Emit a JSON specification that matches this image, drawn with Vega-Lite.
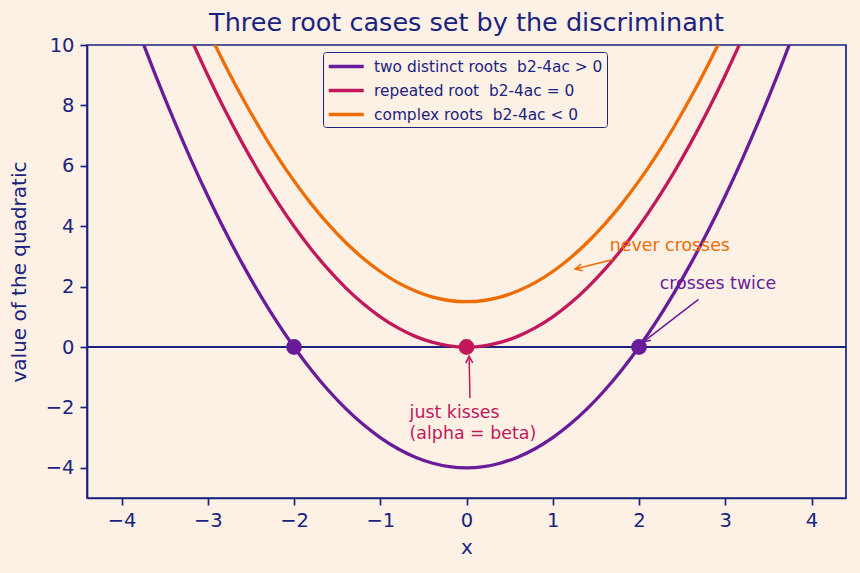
{
  "$schema": "https://vega.github.io/schema/vega-lite/v6.json",
  "width": 759,
  "height": 453,
  "autosize": {"type": "none"},
  "padding": {"left": 87, "top": 45, "right": 14, "bottom": 75},
  "background": "#fdf1e6",
  "config": {
    "font": "DejaVu Sans",
    "view": {"stroke": "#1a237e", "strokeWidth": 1.7, "fill": "#fdf1e6"},
    "axis": {
      "grid": false,
      "domainColor": "#1a237e",
      "domainWidth": 1.7,
      "tickColor": "#1a237e",
      "tickWidth": 1.7,
      "tickSize": 7,
      "labelColor": "#1a237e",
      "labelFontSize": 19.5,
      "labelPadding": 6,
      "titleColor": "#1a237e",
      "titleFontSize": 20,
      "titleFontWeight": "normal"
    }
  },
  "title": {
    "text": "Three root cases set by the discriminant",
    "fontSize": 25.5,
    "fontWeight": "normal",
    "color": "#1a237e",
    "anchor": "middle",
    "offset": -1
  },
  "datasets": {
    "curves": [
      {"x": -3.8, "y": 10.44, "case": "two distinct roots \u00a0b2-4ac > 0"},
      {"x": -3.6, "y": 8.96, "case": "two distinct roots \u00a0b2-4ac > 0"},
      {"x": -3.4, "y": 7.56, "case": "two distinct roots \u00a0b2-4ac > 0"},
      {"x": -3.2, "y": 6.24, "case": "two distinct roots \u00a0b2-4ac > 0"},
      {"x": -3.0, "y": 5.0, "case": "two distinct roots \u00a0b2-4ac > 0"},
      {"x": -2.8, "y": 3.84, "case": "two distinct roots \u00a0b2-4ac > 0"},
      {"x": -2.6, "y": 2.76, "case": "two distinct roots \u00a0b2-4ac > 0"},
      {"x": -2.4, "y": 1.76, "case": "two distinct roots \u00a0b2-4ac > 0"},
      {"x": -2.2, "y": 0.84, "case": "two distinct roots \u00a0b2-4ac > 0"},
      {"x": -2.0, "y": 0.0, "case": "two distinct roots \u00a0b2-4ac > 0"},
      {"x": -1.8, "y": -0.76, "case": "two distinct roots \u00a0b2-4ac > 0"},
      {"x": -1.6, "y": -1.44, "case": "two distinct roots \u00a0b2-4ac > 0"},
      {"x": -1.4, "y": -2.04, "case": "two distinct roots \u00a0b2-4ac > 0"},
      {"x": -1.2, "y": -2.56, "case": "two distinct roots \u00a0b2-4ac > 0"},
      {"x": -1.0, "y": -3.0, "case": "two distinct roots \u00a0b2-4ac > 0"},
      {"x": -0.8, "y": -3.36, "case": "two distinct roots \u00a0b2-4ac > 0"},
      {"x": -0.6, "y": -3.64, "case": "two distinct roots \u00a0b2-4ac > 0"},
      {"x": -0.4, "y": -3.84, "case": "two distinct roots \u00a0b2-4ac > 0"},
      {"x": -0.2, "y": -3.96, "case": "two distinct roots \u00a0b2-4ac > 0"},
      {"x": 0.0, "y": -4.0, "case": "two distinct roots \u00a0b2-4ac > 0"},
      {"x": 0.2, "y": -3.96, "case": "two distinct roots \u00a0b2-4ac > 0"},
      {"x": 0.4, "y": -3.84, "case": "two distinct roots \u00a0b2-4ac > 0"},
      {"x": 0.6, "y": -3.64, "case": "two distinct roots \u00a0b2-4ac > 0"},
      {"x": 0.8, "y": -3.36, "case": "two distinct roots \u00a0b2-4ac > 0"},
      {"x": 1.0, "y": -3.0, "case": "two distinct roots \u00a0b2-4ac > 0"},
      {"x": 1.2, "y": -2.56, "case": "two distinct roots \u00a0b2-4ac > 0"},
      {"x": 1.4, "y": -2.04, "case": "two distinct roots \u00a0b2-4ac > 0"},
      {"x": 1.6, "y": -1.44, "case": "two distinct roots \u00a0b2-4ac > 0"},
      {"x": 1.8, "y": -0.76, "case": "two distinct roots \u00a0b2-4ac > 0"},
      {"x": 2.0, "y": 0.0, "case": "two distinct roots \u00a0b2-4ac > 0"},
      {"x": 2.2, "y": 0.84, "case": "two distinct roots \u00a0b2-4ac > 0"},
      {"x": 2.4, "y": 1.76, "case": "two distinct roots \u00a0b2-4ac > 0"},
      {"x": 2.6, "y": 2.76, "case": "two distinct roots \u00a0b2-4ac > 0"},
      {"x": 2.8, "y": 3.84, "case": "two distinct roots \u00a0b2-4ac > 0"},
      {"x": 3.0, "y": 5.0, "case": "two distinct roots \u00a0b2-4ac > 0"},
      {"x": 3.2, "y": 6.24, "case": "two distinct roots \u00a0b2-4ac > 0"},
      {"x": 3.4, "y": 7.56, "case": "two distinct roots \u00a0b2-4ac > 0"},
      {"x": 3.6, "y": 8.96, "case": "two distinct roots \u00a0b2-4ac > 0"},
      {"x": 3.8, "y": 10.44, "case": "two distinct roots \u00a0b2-4ac > 0"},

      {"x": -3.2, "y": 10.24, "case": "repeated root \u00a0b2-4ac = 0"},
      {"x": -3.0, "y": 9.0, "case": "repeated root \u00a0b2-4ac = 0"},
      {"x": -2.8, "y": 7.84, "case": "repeated root \u00a0b2-4ac = 0"},
      {"x": -2.6, "y": 6.76, "case": "repeated root \u00a0b2-4ac = 0"},
      {"x": -2.4, "y": 5.76, "case": "repeated root \u00a0b2-4ac = 0"},
      {"x": -2.2, "y": 4.84, "case": "repeated root \u00a0b2-4ac = 0"},
      {"x": -2.0, "y": 4.0, "case": "repeated root \u00a0b2-4ac = 0"},
      {"x": -1.8, "y": 3.24, "case": "repeated root \u00a0b2-4ac = 0"},
      {"x": -1.6, "y": 2.56, "case": "repeated root \u00a0b2-4ac = 0"},
      {"x": -1.4, "y": 1.96, "case": "repeated root \u00a0b2-4ac = 0"},
      {"x": -1.2, "y": 1.44, "case": "repeated root \u00a0b2-4ac = 0"},
      {"x": -1.0, "y": 1.0, "case": "repeated root \u00a0b2-4ac = 0"},
      {"x": -0.8, "y": 0.64, "case": "repeated root \u00a0b2-4ac = 0"},
      {"x": -0.6, "y": 0.36, "case": "repeated root \u00a0b2-4ac = 0"},
      {"x": -0.4, "y": 0.16, "case": "repeated root \u00a0b2-4ac = 0"},
      {"x": -0.2, "y": 0.04, "case": "repeated root \u00a0b2-4ac = 0"},
      {"x": 0.0, "y": 0.0, "case": "repeated root \u00a0b2-4ac = 0"},
      {"x": 0.2, "y": 0.04, "case": "repeated root \u00a0b2-4ac = 0"},
      {"x": 0.4, "y": 0.16, "case": "repeated root \u00a0b2-4ac = 0"},
      {"x": 0.6, "y": 0.36, "case": "repeated root \u00a0b2-4ac = 0"},
      {"x": 0.8, "y": 0.64, "case": "repeated root \u00a0b2-4ac = 0"},
      {"x": 1.0, "y": 1.0, "case": "repeated root \u00a0b2-4ac = 0"},
      {"x": 1.2, "y": 1.44, "case": "repeated root \u00a0b2-4ac = 0"},
      {"x": 1.4, "y": 1.96, "case": "repeated root \u00a0b2-4ac = 0"},
      {"x": 1.6, "y": 2.56, "case": "repeated root \u00a0b2-4ac = 0"},
      {"x": 1.8, "y": 3.24, "case": "repeated root \u00a0b2-4ac = 0"},
      {"x": 2.0, "y": 4.0, "case": "repeated root \u00a0b2-4ac = 0"},
      {"x": 2.2, "y": 4.84, "case": "repeated root \u00a0b2-4ac = 0"},
      {"x": 2.4, "y": 5.76, "case": "repeated root \u00a0b2-4ac = 0"},
      {"x": 2.6, "y": 6.76, "case": "repeated root \u00a0b2-4ac = 0"},
      {"x": 2.8, "y": 7.84, "case": "repeated root \u00a0b2-4ac = 0"},
      {"x": 3.0, "y": 9.0, "case": "repeated root \u00a0b2-4ac = 0"},
      {"x": 3.2, "y": 10.24, "case": "repeated root \u00a0b2-4ac = 0"},

      {"x": -3.0, "y": 10.5, "case": "complex roots \u00a0b2-4ac < 0"},
      {"x": -2.8, "y": 9.34, "case": "complex roots \u00a0b2-4ac < 0"},
      {"x": -2.6, "y": 8.26, "case": "complex roots \u00a0b2-4ac < 0"},
      {"x": -2.4, "y": 7.26, "case": "complex roots \u00a0b2-4ac < 0"},
      {"x": -2.2, "y": 6.34, "case": "complex roots \u00a0b2-4ac < 0"},
      {"x": -2.0, "y": 5.5, "case": "complex roots \u00a0b2-4ac < 0"},
      {"x": -1.8, "y": 4.74, "case": "complex roots \u00a0b2-4ac < 0"},
      {"x": -1.6, "y": 4.06, "case": "complex roots \u00a0b2-4ac < 0"},
      {"x": -1.4, "y": 3.46, "case": "complex roots \u00a0b2-4ac < 0"},
      {"x": -1.2, "y": 2.94, "case": "complex roots \u00a0b2-4ac < 0"},
      {"x": -1.0, "y": 2.5, "case": "complex roots \u00a0b2-4ac < 0"},
      {"x": -0.8, "y": 2.14, "case": "complex roots \u00a0b2-4ac < 0"},
      {"x": -0.6, "y": 1.86, "case": "complex roots \u00a0b2-4ac < 0"},
      {"x": -0.4, "y": 1.66, "case": "complex roots \u00a0b2-4ac < 0"},
      {"x": -0.2, "y": 1.54, "case": "complex roots \u00a0b2-4ac < 0"},
      {"x": 0.0, "y": 1.5, "case": "complex roots \u00a0b2-4ac < 0"},
      {"x": 0.2, "y": 1.54, "case": "complex roots \u00a0b2-4ac < 0"},
      {"x": 0.4, "y": 1.66, "case": "complex roots \u00a0b2-4ac < 0"},
      {"x": 0.6, "y": 1.86, "case": "complex roots \u00a0b2-4ac < 0"},
      {"x": 0.8, "y": 2.14, "case": "complex roots \u00a0b2-4ac < 0"},
      {"x": 1.0, "y": 2.5, "case": "complex roots \u00a0b2-4ac < 0"},
      {"x": 1.2, "y": 2.94, "case": "complex roots \u00a0b2-4ac < 0"},
      {"x": 1.4, "y": 3.46, "case": "complex roots \u00a0b2-4ac < 0"},
      {"x": 1.6, "y": 4.06, "case": "complex roots \u00a0b2-4ac < 0"},
      {"x": 1.8, "y": 4.74, "case": "complex roots \u00a0b2-4ac < 0"},
      {"x": 2.0, "y": 5.5, "case": "complex roots \u00a0b2-4ac < 0"},
      {"x": 2.2, "y": 6.34, "case": "complex roots \u00a0b2-4ac < 0"},
      {"x": 2.4, "y": 7.26, "case": "complex roots \u00a0b2-4ac < 0"},
      {"x": 2.6, "y": 8.26, "case": "complex roots \u00a0b2-4ac < 0"},
      {"x": 2.8, "y": 9.34, "case": "complex roots \u00a0b2-4ac < 0"},
      {"x": 3.0, "y": 10.5, "case": "complex roots \u00a0b2-4ac < 0"}
    ],
    "roots": [
      {"x": -2, "y": 0, "case": "two distinct roots \u00a0b2-4ac > 0"},
      {"x": 0, "y": 0, "case": "repeated root \u00a0b2-4ac = 0"},
      {"x": 2, "y": 0, "case": "two distinct roots \u00a0b2-4ac > 0"}
    ]
  },
  "layer": [
    {
      "description": "y = 0 reference line",
      "data": {"values": [{"y": 0}]},
      "mark": {"type": "rule", "color": "#1a237e", "strokeWidth": 1.8},
      "encoding": {
        "y": {"field": "y", "type": "quantitative"}
      }
    },
    {
      "data": {"name": "curves"},
      "mark": {"type": "line", "strokeWidth": 3.3, "clip": true, "interpolate": "monotone"},
      "encoding": {
        "x": {
          "field": "x", "type": "quantitative",
          "scale": {"domain": [-4.4, 4.4], "nice": false, "zero": false},
          "axis": {"title": "x", "values": [-4, -3, -2, -1, 0, 1, 2, 3, 4], "format": "d", "titlePadding": 8}
        },
        "y": {
          "field": "y", "type": "quantitative",
          "scale": {"domain": [-5, 10], "nice": false, "zero": false},
          "axis": {"title": "value of the quadratic", "values": [-4, -2, 0, 2, 4, 6, 8, 10], "format": "d", "titlePadding": 16}
        },
        "color": {
          "field": "case", "type": "nominal",
          "scale": {
            "domain": ["two distinct roots \u00a0b2-4ac > 0", "repeated root \u00a0b2-4ac = 0", "complex roots \u00a0b2-4ac < 0"],
            "range": ["#6a1b9a", "#c2185b", "#ef6c00"]
          },
          "legend": {
            "title": null,
            "orient": "none",
            "legendX": 236,
            "legendY": 7,
            "symbolType": "M -1 0 L 3 0",
            "symbolSize": 306,
            "symbolStrokeWidth": 3.3,
            "labelFontSize": 15.4,
            "labelColor": "#1a237e",
            "labelLimit": 400,
            "labelOffset": 26,
            "rowPadding": 5,
            "padding": 4,
            "strokeColor": "#1a237e",
            "fillColor": "#fdf1e6",
            "cornerRadius": 3
          }
        }
      }
    },
    {
      "data": {"name": "roots"},
      "mark": {"type": "point", "shape": "circle", "filled": true, "size": 250, "opacity": 1},
      "encoding": {
        "x": {"field": "x", "type": "quantitative"},
        "y": {"field": "y", "type": "quantitative"},
        "fill": {
          "field": "case", "type": "nominal",
          "scale": {
            "domain": ["two distinct roots \u00a0b2-4ac > 0", "repeated root \u00a0b2-4ac = 0", "complex roots \u00a0b2-4ac < 0"],
            "range": ["#6a1b9a", "#c2185b", "#ef6c00"]
          },
          "legend": null
        }
      }
    },
    {
      "description": "arrow: never crosses",
      "data": {"values": [{"x": 1.70, "y": 2.90, "x2": 1.26, "y2": 2.58}]},
      "layer": [
        {
          "mark": {"type": "rule", "color": "#ef6c00", "strokeWidth": 1.5},
          "encoding": {
            "x": {"field": "x", "type": "quantitative"},
            "y": {"field": "y", "type": "quantitative"},
            "x2": {"field": "x2"},
            "y2": {"field": "y2"}
          }
        },
        {
          "mark": {"type": "point", "shape": "M -0.5 1 L 0 0 L 0.5 1", "size": 196, "filled": false, "color": "#ef6c00", "strokeWidth": 1.5, "angle": 256, "opacity": 1},
          "encoding": {
            "x": {"field": "x2", "type": "quantitative"},
            "y": {"field": "y2", "type": "quantitative"}
          }
        }
      ]
    },
    {
      "description": "arrow: crosses twice",
      "data": {"values": [{"x": 2.69, "y": 1.58, "x2": 2.05, "y2": 0.17}]},
      "layer": [
        {
          "mark": {"type": "rule", "color": "#6a1b9a", "strokeWidth": 1.5},
          "encoding": {
            "x": {"field": "x", "type": "quantitative"},
            "y": {"field": "y", "type": "quantitative"},
            "x2": {"field": "x2"},
            "y2": {"field": "y2"}
          }
        },
        {
          "mark": {"type": "point", "shape": "M -0.5 1 L 0 0 L 0.5 1", "size": 196, "filled": false, "color": "#6a1b9a", "strokeWidth": 1.5, "angle": 232, "opacity": 1},
          "encoding": {
            "x": {"field": "x2", "type": "quantitative"},
            "y": {"field": "y2", "type": "quantitative"}
          }
        }
      ]
    },
    {
      "description": "arrow: just kisses",
      "data": {"values": [{"x": 0.04, "y": -1.69, "x2": 0.03, "y2": -0.30}]},
      "layer": [
        {
          "mark": {"type": "rule", "color": "#c2185b", "strokeWidth": 1.5},
          "encoding": {
            "x": {"field": "x", "type": "quantitative"},
            "y": {"field": "y", "type": "quantitative"},
            "x2": {"field": "x2"},
            "y2": {"field": "y2"}
          }
        },
        {
          "mark": {"type": "point", "shape": "M -0.5 1 L 0 0 L 0.5 1", "size": 196, "filled": false, "color": "#c2185b", "strokeWidth": 1.5, "angle": 358.6, "opacity": 1},
          "encoding": {
            "x": {"field": "x2", "type": "quantitative"},
            "y": {"field": "y2", "type": "quantitative"}
          }
        }
      ]
    },
    {
      "data": {"values": [{"x": 1.66, "y": 3.35, "label": "never crosses"}]},
      "mark": {"type": "text", "align": "left", "baseline": "middle", "fontSize": 17.4, "color": "#ef6c00"},
      "encoding": {
        "x": {"field": "x", "type": "quantitative"},
        "y": {"field": "y", "type": "quantitative"},
        "text": {"field": "label"}
      }
    },
    {
      "data": {"values": [{"x": 2.24, "y": 2.10, "label": "crosses twice"}]},
      "mark": {"type": "text", "align": "left", "baseline": "middle", "fontSize": 17.4, "color": "#6a1b9a"},
      "encoding": {
        "x": {"field": "x", "type": "quantitative"},
        "y": {"field": "y", "type": "quantitative"},
        "text": {"field": "label"}
      }
    },
    {
      "data": {"values": [
        {"x": -0.66, "y": -2.2, "label": "just kisses"},
        {"x": -0.66, "y": -2.89, "label": "(alpha = beta)"}
      ]},
      "mark": {"type": "text", "align": "left", "baseline": "middle", "fontSize": 17.4, "color": "#c2185b"},
      "encoding": {
        "x": {"field": "x", "type": "quantitative"},
        "y": {"field": "y", "type": "quantitative"},
        "text": {"field": "label"}
      }
    }
  ]
}
